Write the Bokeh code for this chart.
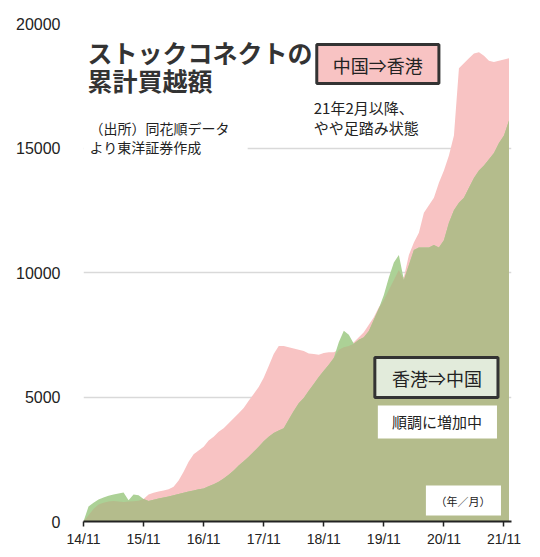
from bokeh.plotting import figure
from bokeh.models import FixedTicker, Label, Range1d
from bokeh.embed import file_html
from bokeh.resources import INLINE

# Monthly values, Nov 2014 .. Dec 2021 (億元)
# 中国⇒香港 (southbound) cumulative net buying
southbound = [
    0, 250, 500, 680, 750, 800, 820, 800, 780, 800,
    810, 830, 900, 1080, 1150, 1200, 1250, 1300, 1400, 1650,
    2000, 2400, 2700, 2850, 3000, 3250, 3400, 3600, 3750, 3950,
    4150, 4350, 4560, 4850, 5120, 5400, 5770, 6250, 6730, 7050,
    7050, 7000, 6950, 6900, 6850, 6750, 6730, 6700, 6770, 6800,
    6800, 6900, 7000, 7050, 7200, 7400, 7600, 7900, 8200, 8600,
    8900, 9300, 9700, 10100, 9800, 10700, 11200, 11600, 12400, 12700,
    13000, 13600, 14100, 14700, 15500, 18200, 18400, 18600, 18800, 18850,
    18700, 18500, 18450, 18500, 18550, 18600,
]
# 香港⇒中国 (northbound) cumulative net buying
northbound = [
    0, 600, 750, 880, 960, 1030, 1080, 1120, 1160, 850,
    1080, 1050, 900, 820, 870, 920, 960, 1000, 1050, 1100,
    1150, 1200, 1250, 1300, 1330, 1420, 1500, 1600, 1730, 1880,
    2050, 2250, 2420, 2600, 2800, 3000, 3220, 3400, 3550, 3650,
    3750, 4100, 4440, 4750, 4960, 5250, 5520, 5800, 6050, 6300,
    6570, 7200, 7660, 7500, 7140, 7300, 7400, 7650, 8100, 8550,
    9100, 9800, 10400, 10700, 9700, 10300, 10900, 11000, 11000, 11000,
    11100, 11000, 11300, 12000, 12500, 12800, 13000, 13400, 13800, 14100,
    14300, 14550, 14800, 15200, 15500, 16100,
]
month_idx = list(range(len(southbound)))
overlap = [min(a, b) for a, b in zip(southbound, northbound)]

x_tick_pos = [0, 12, 24, 36, 48, 60, 72, 84]
x_tick_labels = ["14/11", "15/11", "16/11", "17/11", "18/11", "19/11", "20/11", "21/11"]
y_ticks = [0, 5000, 10000, 15000, 20000]

PINK = "#f8c3c3"
LGREEN = "#acd196"
OLIVE = "#b4bc8c"
JP = "Noto Sans CJK JP"

p = figure(width=532, height=549, x_range=Range1d(0, 85.5), y_range=Range1d(0, 20000),
           output_backend="svg", toolbar_location=None,
           min_border_left=83, min_border_right=21, min_border_top=23, min_border_bottom=28)
p.outline_line_color = None
p.background_fill_color = "white"

# page pixel -> data helpers (for annotation placement only)
def dx(px):
    return (px - 83) / 5.0

def dy(py):
    return (521 - py) * 20000 / 498.0

p.varea(x=month_idx, y1=0, y2=southbound, color=PINK)
p.varea(x=month_idx, y1=0, y2=northbound, color=LGREEN)
p.varea(x=month_idx, y1=0, y2=overlap, color=OLIVE)

p.xgrid.grid_line_color = None
p.ygrid.ticker = FixedTicker(ticks=y_ticks)
p.ygrid.grid_line_color = "#d9d9d9"
p.ygrid.grid_line_width = 1.5

p.xaxis.ticker = FixedTicker(ticks=x_tick_pos)
p.xaxis.major_label_overrides = {t: l for t, l in zip(x_tick_pos, x_tick_labels)}
p.xaxis.axis_line_color = "#222222"
p.xaxis.axis_line_width = 2
p.xaxis.major_tick_line_color = "#222222"
p.xaxis.major_tick_line_width = 1.5
p.xaxis.major_tick_out = 5
p.xaxis.major_tick_in = 0
p.xaxis.minor_tick_line_color = None
p.xaxis.major_label_standoff = 4
p.xaxis.major_label_text_font = "Liberation Sans"
p.xaxis.major_label_text_font_size = "14px"
p.xaxis.major_label_text_color = "#222222"

p.yaxis.ticker = FixedTicker(ticks=y_ticks)
p.yaxis.axis_line_color = None
p.yaxis.major_tick_line_color = None
p.yaxis.minor_tick_line_color = None
p.yaxis.major_label_standoff = 17
p.yaxis.major_label_text_font = "Liberation Sans"
p.yaxis.major_label_text_font_size = "16px"
p.yaxis.major_label_text_color = "#222222"

# boxes
def box(x0, y0, x1, y1, fill, line=None, lw=0):
    p.quad(left=dx(x0), right=dx(x1), top=dy(y0), bottom=dy(y1), fill_color=fill,
           line_color=line, line_width=lw)

box(83, 112, 247, 158, "white")
box(316, 44, 438, 83, PINK, "#333333", 3)
box(374, 357, 497, 397, "#e2ebdb", "#333333", 3)
box(377, 405, 496, 438, "white")
box(425, 485, 500, 515, "white")

def label(px, py, text, size, align="left", bold=False, color="#222222"):
    p.add_layout(Label(x=dx(px), y=dy(py), text=text, text_font=JP,
                       text_font_size=f"{size}px", text_align=align, text_baseline="middle",
                       text_color=color, text_font_style="bold" if bold else "normal"))

label(45, 48, "（億元）", 13, "center")
label(87, 51, "ストックコネクトの", 25, bold=True, color="#333333")
label(87, 79, "累計買越額", 25, bold=True, color="#333333")
label(89, 127, "（出所）同花順データ", 14)
label(89, 146, "より東洋証券作成", 14)
label(377, 64, "中国⇒香港", 18, "center")
label(313, 107, "21年2月以降、", 15)
label(313, 127, "やや足踏み状態", 15)
label(436, 377, "香港⇒中国", 18, "center")
label(436, 421, "順調に増加中", 15, "center")
label(462, 500, "（年／月）", 11, "center")

open("out.html", "w").write(file_html(p, INLINE))
